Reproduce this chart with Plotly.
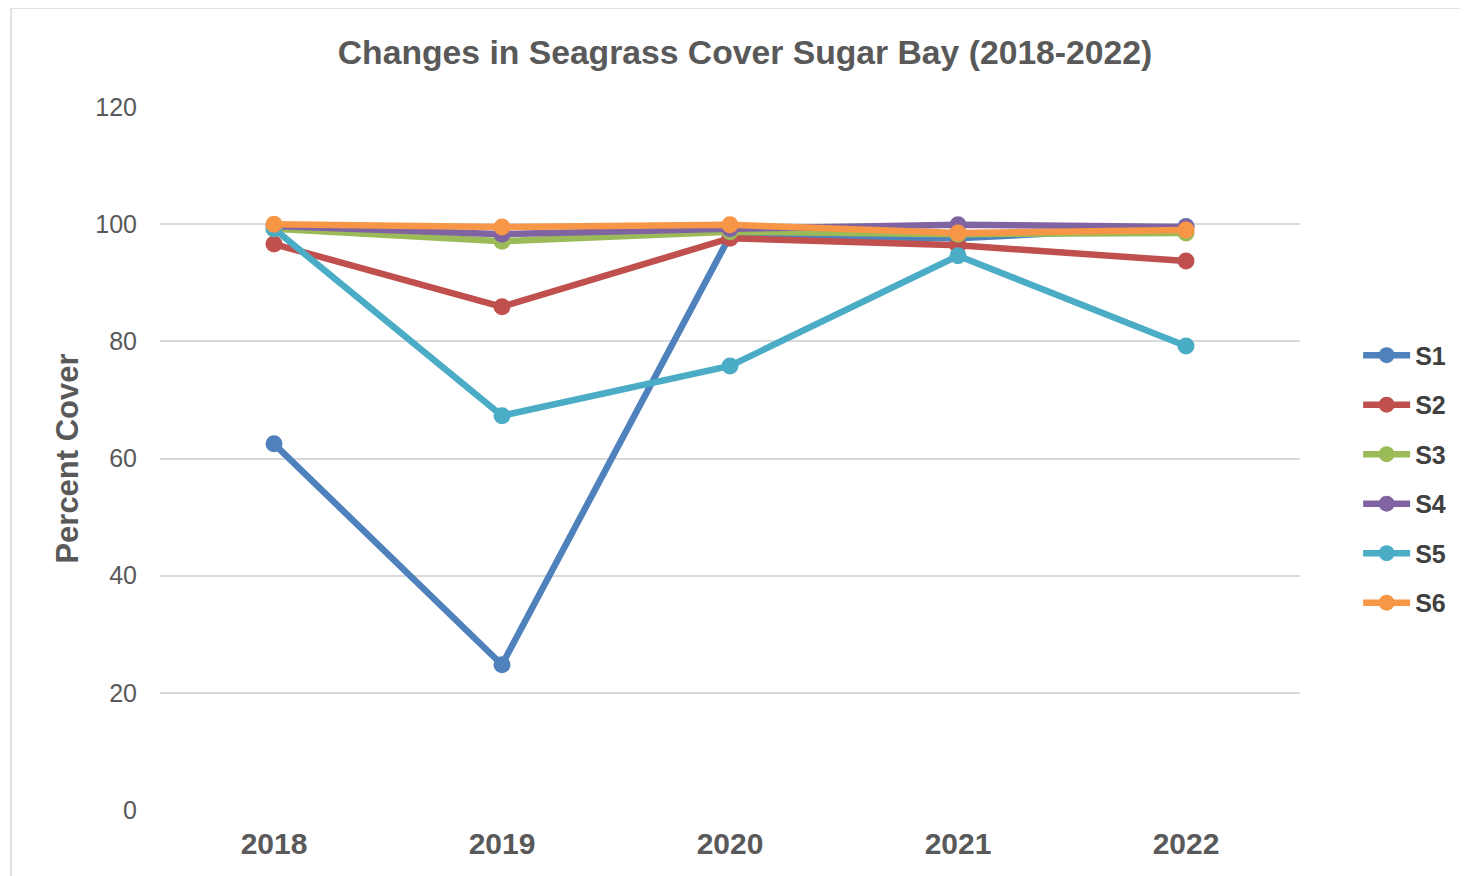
import plotly.graph_objects as go

years = ["2018", "2019", "2020", "2021", "2022"]
S1 = [62.5, 24.8, 98.0, 97.6, 99.6]
S2 = [96.6, 85.9, 97.6, 96.4, 93.7]
S3 = [99.2, 97.1, 98.7, 98.3, 98.5]
S4 = [99.7, 98.3, 99.2, 99.9, 99.5]
S5 = [99.2, 67.3, 75.8, 94.6, 79.2]
S6 = [100.0, 99.5, 99.9, 98.5, 99.0]

series = [("S1", S1, "#4F81BD"), ("S2", S2, "#C0504D"), ("S3", S3, "#9BBB59"),
          ("S4", S4, "#8064A2"), ("S5", S5, "#4BACC6"), ("S6", S6, "#F79646")]

FONT = "Liberation Sans, Arial"

fig = go.Figure()
for name, vals, col in series:
    fig.add_trace(go.Scatter(
        x=years, y=vals, name=name, mode="lines+markers", legendgroup=name,
        line=dict(color=col, width=6.5), marker=dict(color=col, size=17),
    ))

W, H = 1460, 868
fig.update_layout(
    width=W, height=H,
    margin=dict(l=152, r=168, t=99, b=66),
    paper_bgcolor="white", plot_bgcolor="white",
    title=dict(text="<b>Changes in Seagrass Cover Sugar Bay (2018-2022)</b>",
               x=737 / W, xanchor="center", y=1 - 44 / H, yanchor="middle",
               font=dict(family=FONT, size=33.7, color="#595959")),
    legend=dict(x=1.051, xanchor="left", y=0.471, yanchor="middle",
                font=dict(family=FONT, size=25, color="#404040", weight="bold"),
                itemwidth=47, tracegroupgap=14, bgcolor="rgba(0,0,0,0)"),
    shapes=[dict(type="rect", xref="paper", yref="paper",
                 x0=(11 - 160) / 1140, x1=(1465 - 160) / 1140,
                 y0=(810 - 900) / 703, y1=(810 - 8) / 703,
                 line=dict(color="#d9d9d9", width=1.5), layer="below")],
)
fig.update_xaxes(type="category", range=[-0.5, 4.5], showgrid=False, showline=False, zeroline=False,
                 tickfont=dict(family=FONT, size=30, color="#595959", weight="bold"),
                 ticklabelstandoff=13)
fig.update_yaxes(range=[0, 120], dtick=20, showgrid=True, gridcolor="#d9d9d9", gridwidth=1.5,
                 zeroline=False, showline=False,
                 tickfont=dict(family=FONT, size=25, color="#595959"),
                 ticklabelstandoff=22,
                 title=dict(text="<b>Percent Cover</b>", standoff=7,
                            font=dict(family=FONT, size=31, color="#595959")))

fig.write_html("out.html")
